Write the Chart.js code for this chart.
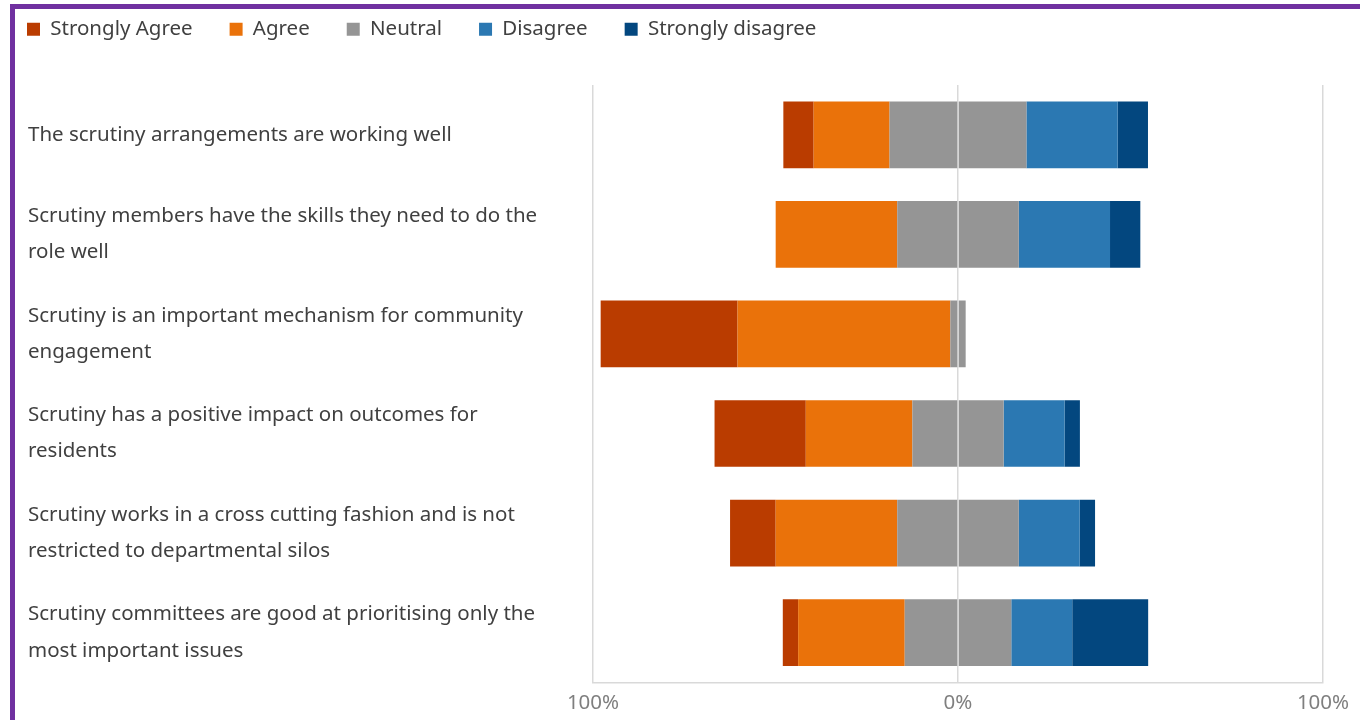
<!DOCTYPE html>
<html>
<head>
<meta charset="utf-8">
<script src="https://cdn.jsdelivr.net/npm/chart.js@4/dist/chart.umd.min.js"></script>
<style>
  body { margin: 0; background: #fff; }
  #wrap { position: relative; width: 1360px; height: 720px; overflow: hidden; }
  #frame {
    position: absolute; left: 10px; top: 4px; right: -10px; bottom: -10px;
    border-top: 5px solid #7030a0; border-left: 5px solid #7030a0;
    pointer-events: none;
  }
  canvas { position: absolute; left: 0; top: 0; }
</style>
</head>
<body>
<div id="wrap">
  <canvas id="likertChart" width="1360" height="720"></canvas>
  <div id="frame"></div>
</div>
<script>
// Statements (top to bottom)
const statements = [
  ["The scrutiny arrangements are working well"],
  ["Scrutiny members have the skills they need to do the", "role well"],
  ["Scrutiny is an important mechanism for community", "engagement"],
  ["Scrutiny has a positive impact on outcomes for", "residents"],
  ["Scrutiny works in a cross cutting fashion and is not", "restricted to departmental silos"],
  ["Scrutiny committees are good at prioritising only the", "most important issues"]
];

// Share of responses (%)
const stronglyAgree = [8.3, 0, 37.5, 25, 12.5, 4.2];
const agree = [20.8, 33.3, 58.3, 29.2, 33.3, 29.2];
const neutral = [37.5, 33.3, 4.2, 25, 33.3, 29.2];
const disagree = [25, 25, 0, 16.7, 16.7, 16.7];
const stronglyDisagree = [8.3, 8.3, 0, 4.2, 4.2, 20.8];

const xTicks = [-100, 0, 100];

const colors = {
  sa: "#ba3c00",
  a: "#ea720a",
  n: "#959595",
  d: "#2b78b2",
  sd: "#03477f"
};

const legendOrder = ["Strongly Agree", "Agree", "Neutral", "Disagree", "Strongly disagree"];
const fontFamily = "'Noto Sans', sans-serif";

// agree side goes left of zero, neutral is split across the middle
const datasets = [
  { label: "Neutral", data: neutral.map(v => -v / 2), backgroundColor: colors.n },
  { label: "Agree", data: agree.map(v => -v), backgroundColor: colors.a },
  { label: "Strongly Agree", data: stronglyAgree.map(v => -v), backgroundColor: colors.sa },
  { label: "Neutral", data: neutral.map(v => v / 2), backgroundColor: colors.n, hideInLegend: true },
  { label: "Disagree", data: disagree, backgroundColor: colors.d },
  { label: "Strongly disagree", data: stronglyDisagree, backgroundColor: colors.sd }
];
datasets.forEach(ds => {
  ds.barPercentage = 0.67;
  ds.categoryPercentage = 1;
});

// move the legend up into the top-left corner
const legendPlace = {
  id: "legendPlace",
  afterLayout(chart) {
    const pad = chart.options.plugins.legend.labels.padding;
    chart.legend.left = 27 - pad;
    chart.legend.top = 19 - pad;
  }
};

new Chart(document.getElementById("likertChart"), {
  type: "bar",
  data: { labels: statements, datasets: datasets },
  options: {
    indexAxis: "y",
    responsive: false,
    animation: false,
    layout: { padding: { left: 28, right: 37, top: 17.5, bottom: -3 } },
    scales: {
      x: {
        stacked: true,
        min: -100,
        max: 100,
        z: 1,
        afterBuildTicks: (scale) => {
          scale.ticks = xTicks.map(v => ({ value: v }));
        },
        grid: { color: "#d9d9d9", lineWidth: 1.5, drawTicks: false },
        border: { color: "#d9d9d9", width: 1.5 },
        ticks: {
          padding: 8,
          color: "#7f7f7f",
          font: { family: fontFamily, size: 20.5 },
          callback: (v) => Math.abs(v) + "%"
        }
      },
      y: {
        stacked: true,
        grid: { display: false },
        border: { display: false },
        afterFit: (scale) => { scale.width = 565; },
        ticks: {
          crossAlign: "far",
          color: "#404040",
          font: { family: fontFamily, size: 20.5, lineHeight: 1.76 }
        }
      }
    },
    plugins: {
      tooltip: { enabled: false },
      legend: {
        position: "top",
        align: "start",
        labels: {
          padding: 37,
          boxWidth: 13,
          boxHeight: 13,
          color: "#404040",
          font: { family: fontFamily, size: 20.5 },
          filter: (item, data) => !data.datasets[item.datasetIndex].hideInLegend,
          sort: (a, b) => legendOrder.indexOf(a.text) - legendOrder.indexOf(b.text)
        }
      }
    }
  },
  plugins: [legendPlace]
});
</script>
</body>
</html>
